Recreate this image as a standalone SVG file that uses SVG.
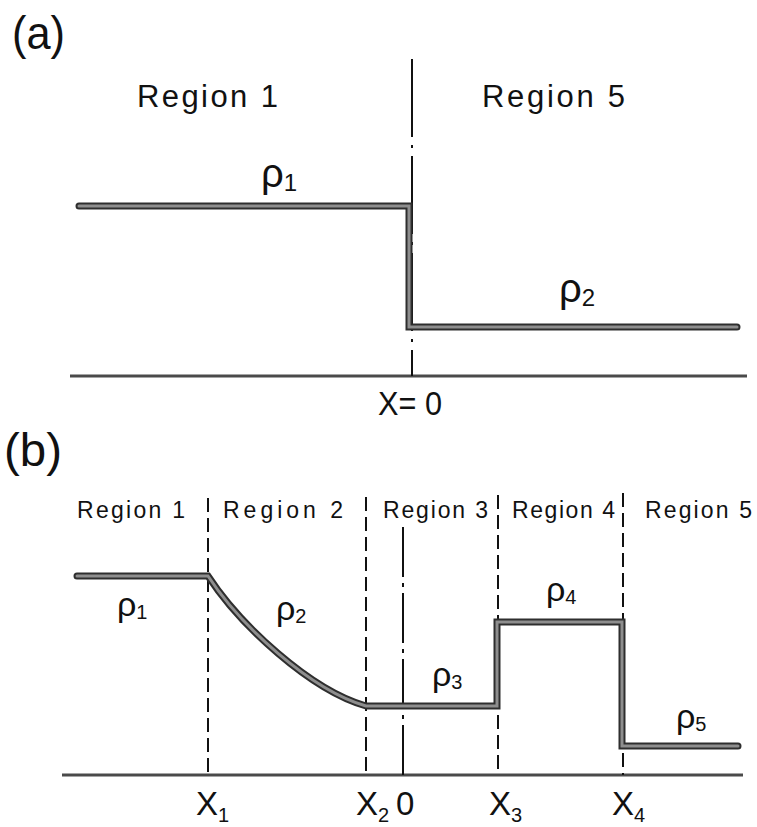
<svg xmlns="http://www.w3.org/2000/svg" width="757" height="827" viewBox="0 0 757 827">
<style>
text{font-family:"Liberation Sans","DejaVu Sans",sans-serif;fill:#111}
.panel{font-size:46px}
.regA{font-size:31px}
.regB{font-size:23px}
.rhoA{font-size:40px}
.rhoB{font-size:34px}
.subA{font-size:24px}
.subB{font-size:20px}
.xl{font-size:33px}
.thickO{fill:none;stroke:#2e2e2e;stroke-width:7;stroke-linejoin:miter;stroke-linecap:round}
.thickI{fill:none;stroke:#8e8e8e;stroke-width:3;stroke-linejoin:miter;stroke-linecap:round}
.axis{stroke:#4a4a4a;stroke-width:3;fill:none}
.dash{stroke:#111;stroke-width:2;stroke-dasharray:14 6;fill:none}
.dashdotA{stroke:#111;stroke-width:2;stroke-dasharray:78 8 3 8;fill:none}
.dashdotB{stroke:#111;stroke-width:2;stroke-dasharray:50 6 4 6;fill:none}
</style>
<rect width="757" height="827" fill="#fff"/>

<!-- Panel (a) -->
<g id="panel-a">
  <text class="panel" x="12" y="49" textLength="53" lengthAdjust="spacingAndGlyphs">(a)</text>
  <text id="a-region1" class="regA" x="137" y="107" textLength="141" lengthAdjust="spacing">Region 1</text>
  <text id="a-region5" class="regA" x="482" y="107" textLength="143" lengthAdjust="spacing">Region 5</text>
  <g id="a-lines">
    <line class="axis" x1="70" y1="376" x2="747" y2="376"/>
    <line class="dashdotA" x1="412" y1="59" x2="412" y2="376"/>
    <path class="thickO" d="M79,206 H409 V327 H737"/>
    <path class="thickI" d="M79,206 H409 V327 H737"/>
  </g>
  <text id="a-rho1" class="rhoA" x="261" y="187">ρ<tspan class="subA" dy="4">1</tspan></text>
  <text id="a-rho2" class="rhoA" x="559" y="302">ρ<tspan class="subA" dy="4">2</tspan></text>
  <text id="a-x0" class="xl" x="378" y="415" textLength="64" lengthAdjust="spacingAndGlyphs">X= 0</text>
</g>

<!-- Panel (b) -->
<g id="panel-b">
  <text class="panel" x="4" y="466" textLength="58" lengthAdjust="spacingAndGlyphs">(b)</text>
  <text id="b-region1" class="regB" x="77" y="518" textLength="108" lengthAdjust="spacing">Region 1</text>
  <text id="b-region2" class="regB" x="223" y="518" textLength="120" lengthAdjust="spacing">Region 2</text>
  <text id="b-region3" class="regB" x="383" y="518" textLength="105" lengthAdjust="spacing">Region 3</text>
  <text id="b-region4" class="regB" x="512" y="518" textLength="103" lengthAdjust="spacing">Region 4</text>
  <text id="b-region5" class="regB" x="645" y="518" textLength="107" lengthAdjust="spacing">Region 5</text>
  <g id="b-lines">
    <line class="axis" x1="62" y1="775" x2="743" y2="775"/>
    <line class="dash" x1="208" y1="498" x2="208" y2="775"/>
    <line class="dash" x1="366" y1="497" x2="366" y2="775"/>
    <line class="dash" x1="498" y1="495" x2="498" y2="775"/>
    <line class="dash" x1="623" y1="493" x2="623" y2="775"/>
    <line class="dashdotB" x1="403" y1="527" x2="403" y2="775"/>
    <path class="thickO" d="M77,576 H208 C240,625 310,690 366,706 H497 V622 H622 V746 H738"/>
    <path class="thickI" d="M77,576 H208 C240,625 310,690 366,706 H497 V622 H622 V746 H738"/>
  </g>
  <text id="b-rho1" class="rhoB" x="117" y="616">ρ<tspan class="subB" dy="3">1</tspan></text>
  <text id="b-rho2" class="rhoB" x="276" y="620">ρ<tspan class="subB" dy="3">2</tspan></text>
  <text id="b-rho3" class="rhoB" x="432" y="686">ρ<tspan class="subB" dy="3">3</tspan></text>
  <text id="b-rho4" class="rhoB" x="546" y="601">ρ<tspan class="subB" dy="3">4</tspan></text>
  <text id="b-rho5" class="rhoB" x="676" y="728">ρ<tspan class="subB" dy="3">5</tspan></text>
  <text id="b-x1" class="xl" x="196" y="815">X<tspan class="subB" dy="7">1</tspan></text>
  <text id="b-x2" class="xl" x="356" y="815">X<tspan class="subB" dy="7">2</tspan></text>
  <text id="b-0" class="xl" x="396" y="815">0</text>
  <text id="b-x3" class="xl" x="489" y="815">X<tspan class="subB" dy="7">3</tspan></text>
  <text id="b-x4" class="xl" x="612" y="815">X<tspan class="subB" dy="7">4</tspan></text>
</g>
</svg>
